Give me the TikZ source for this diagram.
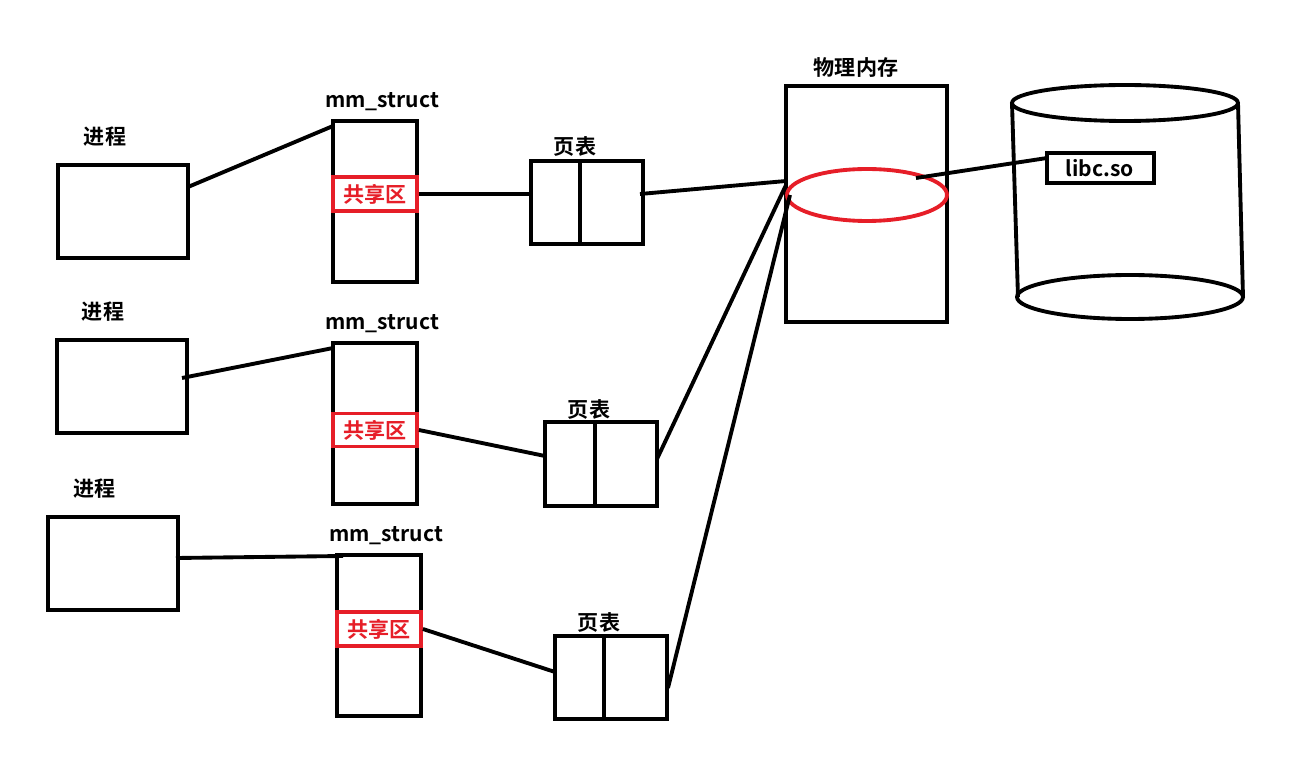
\documentclass[tikz,border=0pt]{standalone}
\usepackage{fontspec}
\setmainfont{Noto Sans CJK SC}[BoldFont={Noto Sans CJK SC Bold}]
\usetikzlibrary{shapes.geometric}
\definecolor{shred}{RGB}{230,30,40}
\tikzset{
  box/.style={draw, line width=2.2pt},
  share/.style={draw=shred, line width=2.2pt, text=shred, font=\bfseries\large, inner sep=0pt},
  lbl/.style={font=\bfseries\large},
  link/.style={line width=2.2pt},
}
\begin{document}
\begin{tikzpicture}[x=0.02cm,y=-0.02cm]
  \useasboundingbox (0,0) rectangle (1303,770);

  % processes
  \draw [box] (58,165) rectangle (188,258) coordinate (p1);
  \draw [box] (57,340) rectangle (187,433);
  \draw [box] (48,517) rectangle (178,610);
  \node [lbl] (proc1) at (105,137) {进程};
  \node [lbl] (proc2) at (103,312) {进程};
  \node [lbl] (proc3) at (95,489) {进程};
  \coordinate (p1e) at (188,187);
  \coordinate (p2e) at (182,378);
  \coordinate (p3e) at (176,558);

  % mm_struct
  \draw [box] (333,121) rectangle (417,282);
  \draw [box] (333,343) rectangle (417,504);
  \draw [box] (337,555) rectangle (421,716);
  \node [lbl] (mm1) at (382,102) {mm\_struct};
  \node [lbl] (mm2) at (382,324) {mm\_struct};
  \node [lbl] (mm3) at (386,536) {mm\_struct};
  \coordinate (m1) at (333,126);
  \coordinate (m2) at (333,348);
  \coordinate (m3) at (343,556);

  % shared areas
  \node [share, minimum width=1.68cm, minimum height=0.68cm] (sh1) at (375,194) {共享区};
  \node [share, minimum width=1.68cm, minimum height=0.66cm] (sh2) at (375,430) {共享区};
  \node [share, minimum width=1.68cm, minimum height=0.68cm] (sh3) at (379,629) {共享区};

  % page tables
  \draw [box] (531,161) rectangle (643,244) (580,161) -- (580,244);
  \draw [box] (545,422) rectangle (657,506) (595,422) -- (595,506);
  \draw [box] (555,636) rectangle (667,719) (604,636) -- (604,719);
  \node [lbl] (pt1) at (575,147) {页表};
  \node [lbl] (pt2) at (589,409) {页表};
  \node [lbl] (pt3) at (599,622) {页表};
  \coordinate (t1w) at (531,194);
  \coordinate (t2w) at (545,456);
  \coordinate (t3w) at (555,672);
  \coordinate (t1e) at (640,194);
  \coordinate (t2e) at (657,459);
  \coordinate (t3e) at (668,688);

  % physical memory
  \draw [box] (786,86) rectangle (947,322);
  \node [lbl] (phys) at (856,68) {物理内存};
  \node [draw=shred, line width=2.2pt, ellipse, minimum width=3.2cm, minimum height=1.04cm] (shm) at (867,195) {};
  \coordinate (s1) at (786,181);
  \coordinate (s2) at (786,185);
  \coordinate (s3) at (790,195);
  \coordinate (se) at (916,178);

  % disk
  \draw [link] (1125,103) ellipse (113 and 18);
  \draw [link] (1130,297) ellipse (113 and 22);
  \draw [link] (1012,103) -- (1018,297) (1238,103) -- (1243,297);
  \draw [box] (1047,153) rectangle (1154,183);
  \node [lbl] (libc) at (1100,168) {libc.so};
  \coordinate (lw) at (1047,158);

  \draw [link] (p1e) -- (m1);
  \draw [link] (p2e) -- (m2);
  \draw [link] (p3e) -- (m3);
  \draw [link] (sh1.east) -- (t1w);
  \draw [link] (sh2.east) -- (t2w);
  \draw [link] (sh3.east) -- (t3w);
  \draw [link] (t1e) -- (s1);
  \draw [link] (t2e) -- (s2);
  \draw [link] (t3e) -- (s3);
  \draw [link] (se) -- (lw);
\end{tikzpicture}
\end{document}
